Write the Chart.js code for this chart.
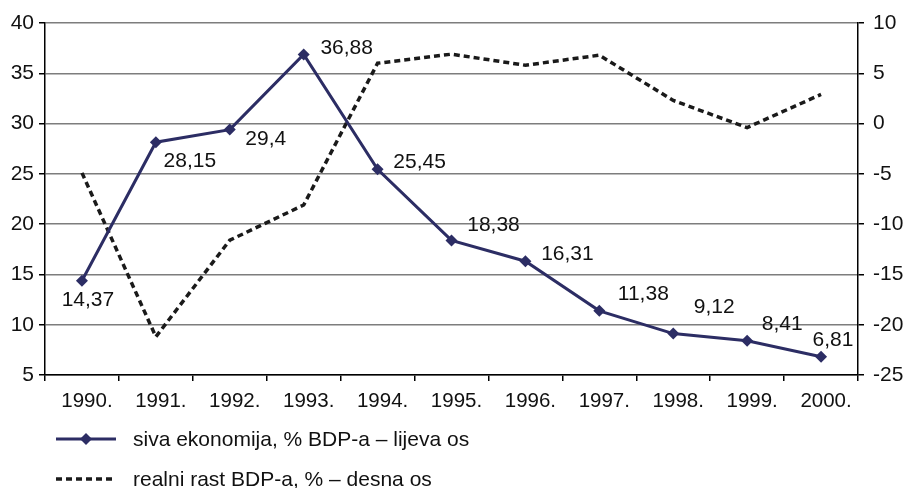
<!doctype html>
<html lang="hr">
  <head>
    <meta charset="utf-8">
    <title>Siva ekonomija i realni rast BDP-a</title>
    <style>
      * {
        margin: 0;
        padding: 0;
      }
      body {
        background: #fff;
      }
      .chartBox {
        width: 905px;
        height: 488px;
      }
    </style>
  </head>
  <body>
    <div class="chartBox">
      <canvas id="myChart" width="905" height="488"></canvas>
    </div>
    <script src="https://cdn.jsdelivr.net/npm/chart.js"></script>
    <script>
    // data
    const years = ['1990.', '1991.', '1992.', '1993.', '1994.', '1995.', '1996.', '1997.', '1998.', '1999.', '2000.'];
    const sivaEkonomija = [14.37, 28.15, 29.4, 36.88, 25.45, 18.38, 16.31, 11.38, 9.12, 8.41, 6.81];
    const realniRast = [-4.9, -21.2, -11.6, -8.1, 6.0, 6.9, 5.8, 6.8, 2.3, -0.4, 2.9];
    const leftTicks = [5, 40, 5];   // min, max, step
    const rightTicks = [-25, 10, 5];

    // where each value label sits relative to its point (dx, dy)
    const labelOffsets = [[6, 19], [34, 19], [36, 10], [43, -6], [42, -7], [42, -15], [42, -7], [44, -17], [41, -26], [35, -17], [12, -17]];

    const font = 'Liberation Sans, Arial, Helvetica, sans-serif';
    const navy = '#2c2d64';

    const valueLabels = {
      id: 'valueLabels',
      afterDatasetsDraw(chart) {
        const { ctx } = chart;
        const meta = chart.getDatasetMeta(0);
        ctx.save();
        ctx.font = '21px ' + font;
        ctx.fillStyle = '#111';
        ctx.textAlign = 'center';
        ctx.textBaseline = 'middle';
        meta.data.forEach((pt, i) => {
          const txt = String(sivaEkonomija[i]).replace('.', ',');
          ctx.fillText(txt, pt.x + labelOffsets[i][0], pt.y + labelOffsets[i][1]);
        });
        ctx.restore();
      }
    };

    const bottomLegend = {
      id: 'bottomLegend',
      afterDraw(chart) {
        const { ctx } = chart;
        const ds = chart.data.datasets;
        ctx.save();
        ctx.font = '21px ' + font;
        ctx.fillStyle = '#111';
        ctx.textBaseline = 'middle';

        // solid with diamond
        ctx.strokeStyle = navy;
        ctx.lineWidth = 3;
        ctx.beginPath();
        ctx.moveTo(56, 439);
        ctx.lineTo(116, 439);
        ctx.stroke();
        ctx.fillStyle = navy;
        ctx.beginPath();
        ctx.moveTo(86, 433);
        ctx.lineTo(92, 439);
        ctx.lineTo(86, 445);
        ctx.lineTo(80, 439);
        ctx.closePath();
        ctx.fill();
        ctx.fillStyle = '#111';
        ctx.fillText(ds[0].label, 133, 440);

        // dotted
        ctx.strokeStyle = '#1a1a1a';
        ctx.lineWidth = 3.5;
        ctx.setLineDash([6, 4]);
        ctx.beginPath();
        ctx.moveTo(56, 479);
        ctx.lineTo(116, 479);
        ctx.stroke();
        ctx.setLineDash([]);
        ctx.fillText(ds[1].label, 133, 480);
        ctx.restore();
      }
    };

    const config = {
      type: 'line',
      data: {
        labels: years,
        datasets: [{
          label: 'siva ekonomija, % BDP-a \u2013 lijeva os',
          data: sivaEkonomija,
          yAxisID: 'y',
          borderColor: navy,
          backgroundColor: navy,
          borderWidth: 3,
          pointStyle: 'rectRot',
          pointRadius: 6,
          pointBackgroundColor: navy,
          pointBorderWidth: 0,
          tension: 0
        }, {
          label: 'realni rast BDP-a, % \u2013 desna os',
          data: realniRast,
          yAxisID: 'y1',
          borderColor: '#1a1a1a',
          borderWidth: 3.5,
          borderDash: [6, 4],
          pointRadius: 0,
          tension: 0
        }]
      },
      options: {
        responsive: false,
        animation: false,
        devicePixelRatio: 1,
        layout: { padding: { top: 23, left: 0, right: 0, bottom: 0 } },
        plugins: {
          legend: { display: false },
          tooltip: { enabled: false }
        },
        scales: {
          x: {
            offset: true,
            grid: {
              offset: true,
              drawOnChartArea: false,
              drawTicks: true,
              tickLength: 6,
              tickColor: '#000',
              lineWidth: 1.5
            },
            border: { color: '#000', width: 1.5 },
            ticks: {
              color: '#111',
              font: { family: font, size: 20.5 },
              padding: 8,
              labelOffset: 5,
              maxRotation: 0,
              autoSkip: false
            },
            afterFit(scale) { scale.height = 113; }
          },
          y: {
            position: 'left',
            min: leftTicks[0],
            max: leftTicks[1],
            grid: {
              color: '#7d7d7d',
              lineWidth: 1.5,
              tickLength: 6,
              tickColor: '#000'
            },
            border: { color: '#000', width: 1.5 },
            ticks: {
              stepSize: leftTicks[2],
              color: '#111',
              font: { family: font, size: 21 },
              padding: 5
            },
            afterFit(scale) { scale.width = 45; }
          },
          y1: {
            position: 'right',
            min: rightTicks[0],
            max: rightTicks[1],
            grid: {
              drawOnChartArea: false,
              tickLength: 6,
              tickColor: '#000',
              lineWidth: 1.5
            },
            border: { color: '#000', width: 1.5 },
            ticks: {
              stepSize: rightTicks[2],
              color: '#111',
              font: { family: font, size: 21 },
              padding: 9
            },
            afterFit(scale) { scale.width = 47; }
          }
        }
      },
      plugins: [valueLabels, bottomLegend]
    };

    const myChart = new Chart(document.getElementById('myChart'), config);
    </script>
  </body>
</html>
